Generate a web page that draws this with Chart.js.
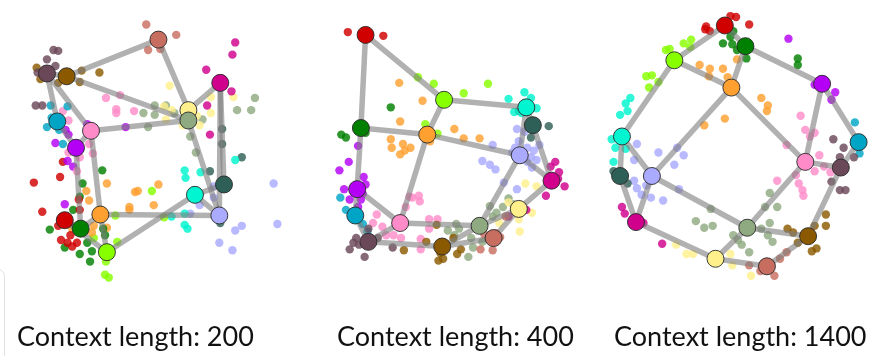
<!DOCTYPE html>
<html>
<head>
<meta charset="utf-8">
<script src="https://cdn.jsdelivr.net/npm/chart.js@4.4.1/dist/chart.umd.min.js"></script>
<style>
  html, body { margin: 0; padding: 0; background: #fff; }
  body { width: 884px; height: 356px; position: relative; overflow: hidden; }
  .panel { position: absolute; top: 0; height: 320px; }
  .caption { position: absolute; top: 319px; font-family: Lato, "Open Sans", sans-serif; font-size: 27px; color: #111; white-space: nowrap; }
  .frame { position: absolute; left: -20px; top: 268px; width: 23px; height: 120px; border: 1.5px solid #e2e2e2; border-radius: 9px; }
</style>
</head>
<body>
<div class="frame"></div>
<div class="panel" style="left:0;width:300px"><canvas id="chart200"></canvas></div>
<div class="panel" style="left:300px;width:290px"><canvas id="chart400"></canvas></div>
<div class="panel" style="left:590px;width:294px"><canvas id="chart1400"></canvas></div>
<div class="caption" style="left:17px">Context length: 200</div>
<div class="caption" style="left:337px">Context length: 400</div>
<div class="caption" style="left:614px">Context length: 1400</div>
<script>
// 16 tokens of a 4x4 grid world, one colour each
const tokens = ['salmon', 'mauve', 'brown', 'cyan', 'pink', 'purple', 'red', 'green',
                'orange', 'lime', 'turquoise', 'darkteal', 'lavender', 'magenta', 'yellow', 'sage'];
const colors = {
    salmon: '200,110,96', mauve: '107,72,88', brown: '139,90,0', cyan: '0,165,197',
    pink: '255,140,200', purple: '180,0,245', red: '208,0,0', green: '0,128,0',
    orange: '255,160,48', lime: '136,255,0', turquoise: '0,245,208', darkteal: '47,96,88',
    lavender: '170,170,255', magenta: '208,0,140', yellow: '255,240,140', sage: '143,170,128'
};

// grid neighbours
const edges = [
    ['red', 'lime'], ['lime', 'turquoise'], ['turquoise', 'darkteal'],
    ['green', 'orange'], ['orange', 'lavender'], ['lavender', 'magenta'],
    ['purple', 'pink'], ['pink', 'sage'], ['sage', 'yellow'],
    ['cyan', 'mauve'], ['mauve', 'brown'], ['brown', 'salmon'],
    ['red', 'green'], ['green', 'purple'], ['purple', 'cyan'],
    ['lime', 'orange'], ['orange', 'pink'], ['pink', 'mauve'],
    ['turquoise', 'lavender'], ['lavender', 'sage'], ['sage', 'brown'],
    ['darkteal', 'magenta'], ['magenta', 'yellow'], ['yellow', 'salmon']
];

// ---- Context length: 200 ----
const nodes200 = {
    salmon: [159, 32], mauve: [40, 68], brown: [61, 71], cyan: [51, 119], pink: [87, 129],
    purple: [71, 147], red: [59, 224], green: [76, 233], orange: [97, 218], lime: [104, 258],
    turquoise: [198, 197], darkteal: [229, 186], lavender: [224, 219], magenta: [225, 78],
    yellow: [191, 107], sage: [191, 118]
};
const points200 = {
    salmon: [[146, 16], [178, 27], [148, 43], [161, 42]],
    mauve: [[47, 43], [52, 44], [40, 53], [49, 60], [30, 67], [28, 102], [35, 102]],
    brown: [[29, 62], [33, 74], [52, 78], [77, 65], [96, 67], [75, 77]],
    cyan: [[44, 102], [62, 103], [40, 125], [45, 115], [53, 128], [57, 143]],
    pink: [[103, 94], [114, 106], [114, 110], [133, 108], [57, 108], [63, 118], [85, 143], [89, 153],
           [75, 157], [63, 152], [72, 172], [118, 91]],
    purple: [[124, 125], [83, 122], [60, 128], [63, 133], [49, 142], [62, 161], [68, 167], [59, 207]],
    red: [[57, 162], [26, 184], [54, 178], [35, 215], [74, 202], [75, 213], [52, 230], [55, 245],
          [62, 248], [67, 252], [72, 248], [65, 240]],
    green: [[99, 171], [78, 185], [75, 199], [68, 213], [43, 234], [102, 240], [100, 233], [75, 260],
            [86, 268], [88, 257], [59, 253], [83, 248]],
    orange: [[104, 185], [82, 193], [85, 203], [134, 194], [137, 193], [159, 186], [154, 208], [128, 210],
             [128, 213], [104, 232], [88, 237], [67, 233], [90, 230]],
    lime: [[152, 193], [113, 219], [115, 247], [165, 221], [103, 268], [102, 282], [106, 285], [90, 243]],
    turquoise: [[187, 171], [188, 179], [204, 173], [241, 160], [187, 217], [187, 229], [190, 233], [173, 220]],
    darkteal: [[248, 157], [214, 172], [225, 227], [227, 127], [227, 143]],
    lavender: [[282, 185], [286, 228], [248, 230], [241, 235], [224, 248], [238, 256], [203, 208],
               [218, 200], [193, 217], [218, 188]],
    magenta: [[241, 35], [238, 48], [210, 64], [237, 87], [211, 102], [214, 133]],
    yellow: [[171, 81], [215, 93], [239, 93], [165, 103], [167, 117], [173, 107], [185, 123], [203, 123],
             [215, 110], [200, 113]],
    sage: [[262, 94], [243, 107], [258, 107], [143, 110], [155, 112], [155, 102], [167, 102], [148, 125],
           [206, 117], [193, 135], [199, 152], [176, 110]]
};

// ---- Context length: 400 ----
const nodes400 = {
    salmon: [497, 243], mauve: [363, 247], brown: [442, 252], cyan: [349, 219], pink: [397, 227],
    purple: [351, 191], red: [360, 27], green: [355, 126], orange: [426, 133], lime: [444, 96],
    turquoise: [532, 104], darkteal: [539, 123], lavender: [525, 155], magenta: [559, 182],
    yellow: [524, 212], sage: [482, 230]
};
const points400 = {
    salmon: [[487, 239], [504, 242], [483, 255], [496, 256], [510, 220], [500, 238]],
    mauve: [[347, 248], [343, 255], [353, 250], [359, 263], [373, 243], [389, 253], [363, 233], [350, 243]],
    brown: [[436, 229], [425, 247], [401, 256], [454, 243], [462, 255], [458, 260], [438, 267], [443, 265],
            [440, 259]],
    cyan: [[333, 200], [339, 213], [357, 228], [362, 236]],
    pink: [[407, 199], [417, 198], [418, 204], [403, 210], [372, 218], [368, 227], [378, 231], [390, 240],
           [398, 243], [382, 240], [428, 223], [437, 223], [428, 233], [419, 244], [419, 255], [410, 200]],
    purple: [[352, 145], [342, 162], [332, 171], [358, 178], [360, 186], [337, 191], [343, 202], [355, 202],
             [352, 210], [357, 196]],
    red: [[341, 24], [379, 28]],
    green: [[387, 104], [334, 133], [339, 136], [360, 131]],
    lime: [[416, 72], [433, 79], [465, 89], [491, 79], [424, 122], [437, 132]],
    orange: [[396, 78], [421, 97], [397, 119], [455, 127], [465, 137], [482, 137], [387, 138], [388, 147],
             [400, 143], [408, 147], [397, 154], [429, 140], [402, 150]],
    turquoise: [[513, 95], [530, 88], [537, 94], [543, 105], [519, 109], [527, 110]],
    darkteal: [[556, 124], [524, 108], [537, 136]],
    lavender: [[522, 127], [530, 130], [496, 144], [485, 161], [493, 165], [499, 170], [508, 184], [522, 191],
               [533, 147], [540, 150], [546, 144], [543, 160], [538, 168], [533, 162], [520, 147], [517, 152],
               [537, 157], [524, 140]],
    magenta: [[563, 162], [558, 167], [567, 173], [573, 188], [553, 198], [532, 213], [513, 220], [566, 180]],
    yellow: [[531, 185], [543, 188], [538, 216], [524, 223], [525, 236], [503, 227], [513, 205]],
    sage: [[493, 209], [500, 216], [507, 210], [513, 201], [518, 207], [457, 228], [460, 233], [448, 235],
           [473, 243], [475, 253], [470, 263], [485, 247], [455, 240], [496, 220]]
};

// ---- Context length: 1400 ----
const nodes1400 = {
    salmon: [769, 273], mauve: [848, 168], brown: [813, 241], cyan: [867, 141], pink: [810, 162],
    purple: [828, 79], red: [724, 17], green: [746, 39], orange: [731, 83], lime: [670, 54],
    turquoise: [614, 135], darkteal: [612, 177], lavender: [646, 177], magenta: [629, 226],
    yellow: [714, 265], sage: [748, 232]
};
const points1400 = {
    salmon: [[750, 272], [762, 278], [777, 283], [790, 258], [783, 265]],
    mauve: [[840, 138], [851, 147], [847, 157], [862, 157], [838, 183], [847, 192], [853, 192]],
    brown: [[791, 233], [797, 237], [832, 218], [832, 230], [820, 230], [802, 248], [817, 257], [822, 254]],
    cyan: [[863, 120], [868, 153]],
    pink: [[805, 113], [810, 128], [815, 135], [820, 131], [790, 144], [825, 155], [830, 167], [820, 172],
           [837, 173], [780, 182], [803, 185], [807, 192], [808, 198], [800, 176]],
    purple: [[792, 31], [820, 80], [842, 88], [838, 96]],
    red: [[730, 7], [736, 8], [750, 16], [703, 21], [708, 23], [704, 18]],
    green: [[733, 23], [730, 29], [722, 36], [732, 37], [737, 43], [747, 52], [802, 52], [802, 59]],
    lime: [[665, 42], [680, 36], [688, 32], [687, 40], [640, 71], [646, 70], [653, 77], [643, 83], [661, 43]],
    orange: [[697, 59], [708, 63], [707, 71], [722, 63], [727, 72], [737, 53], [763, 94], [770, 102],
             [769, 108], [724, 116], [702, 123]],
    turquoise: [[623, 94], [618, 100], [620, 108], [612, 112], [603, 138], [607, 147], [618, 148], [605, 162]],
    darkteal: [[605, 172], [620, 185]],
    lavender: [[630, 143], [653, 152], [673, 147], [680, 155], [670, 165], [627, 182], [630, 190], [635, 197],
               [645, 200], [658, 203], [675, 191], [640, 187], [627, 160]],
    magenta: [[614, 210], [617, 217], [637, 227], [657, 249]],
    yellow: [[672, 250], [683, 260], [690, 260], [730, 260], [732, 272], [752, 283]],
    sage: [[772, 195], [780, 210], [767, 210], [709, 212], [693, 225], [702, 232], [711, 230], [733, 240],
           [742, 250], [750, 258], [763, 233], [770, 240], [772, 227], [775, 247], [738, 245]]
};

function rgba(name, a) {
    return 'rgba(' + colors[name] + ',' + a + ')';
}

function buildChart(canvasId, nodes, points, xMin, xMax) {
    const datasets = [];

    // big token markers, on top
    datasets.push({
        data: tokens.map(t => ({ x: nodes[t][0], y: nodes[t][1] })),
        backgroundColor: tokens.map(t => rgba(t, 1)),
        borderColor: 'rgba(40,40,40,0.9)',
        borderWidth: 1,
        pointRadius: 8.5,
        order: 0
    });

    // grid edges
    edges.forEach(function(e) {
        datasets.push({
            data: e.map(t => ({ x: nodes[t][0], y: nodes[t][1] })),
            showLine: true,
            borderColor: 'rgba(125,125,125,0.6)',
            borderWidth: 5.5,
            pointRadius: 0,
            order: 1
        });
    });

    // individual context positions
    tokens.forEach(function(t) {
        datasets.push({
            data: points[t].map(p => ({ x: p[0], y: p[1] })),
            backgroundColor: rgba(t, 0.82),
            borderWidth: 0,
            pointRadius: 4.2,
            order: 2
        });
    });

    return new Chart(document.getElementById(canvasId), {
        type: 'scatter',
        data: { datasets: datasets },
        options: {
            responsive: true,
            maintainAspectRatio: false,
            animation: false,
            events: [],
            layout: { padding: 0 },
            scales: {
                x: { type: 'linear', display: false, min: xMin, max: xMax },
                y: { type: 'linear', display: false, min: 0, max: 320, reverse: true }
            },
            plugins: {
                legend: { display: false },
                tooltip: { enabled: false },
                title: { display: false }
            }
        }
    });
}

buildChart('chart200', nodes200, points200, 0, 300);
buildChart('chart400', nodes400, points400, 300, 590);
buildChart('chart1400', nodes1400, points1400, 590, 884);
</script>
</body>
</html>
